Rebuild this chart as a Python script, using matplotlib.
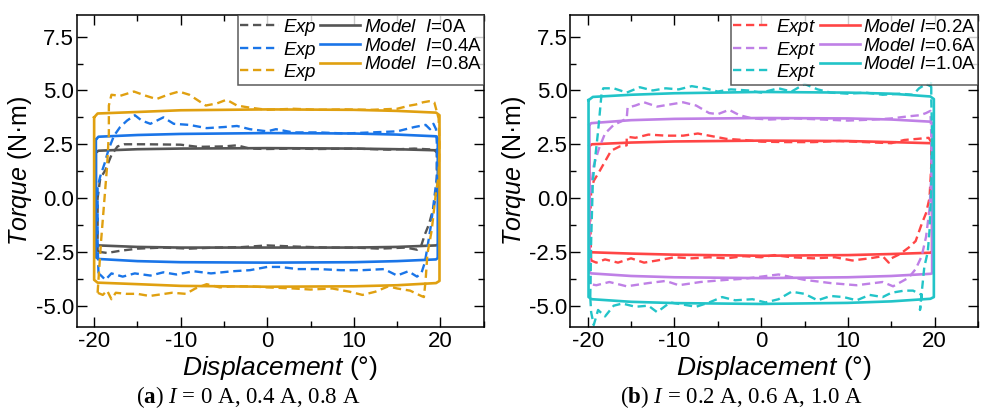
import matplotlib
matplotlib.use("Agg")
import matplotlib.pyplot as plt
from matplotlib.ticker import MultipleLocator

plt.rcParams['font.family'] = ['Liberation Sans', 'DejaVu Sans']
plt.rcParams['axes.unicode_minus'] = False
plt.rcParams['mathtext.fontset'] = 'custom'
plt.rcParams['mathtext.rm'] = 'Liberation Sans'
plt.rcParams['mathtext.it'] = 'Liberation Sans:italic'
plt.rcParams['mathtext.bf'] = 'Liberation Serif:bold'
plt.rcParams['mathtext.cal'] = 'Liberation Serif:italic'

# ---- panel (a): I = 0, 0.4, 0.8 A ----
# model loops (closed paths: upper branch left->right, lower branch right->left)
model0_x = [-19.8, -19.5, -15, -10, 0, 10, 15, 19.5, 19.8, 19.8, 19.5, 15, 10, 0, -10, -15, -19.5, -19.8, -19.8]
model0_y = [2.12, 2.2, 2.27, 2.3, 2.32, 2.3, 2.27, 2.22, 2.15, -2.15, -2.2, -2.27, -2.3, -2.3, -2.3, -2.27, -2.2, -2.15, 2.12]

model04_x = [-19.8, -19.5, -15, -10, 0, 10, 15, 19.5, 19.7, 19.7, 19.5, 15, 10, 0, -10, -15, -19.5, -19.8, -19.8]
model04_y = [2.72, 2.85, 2.93, 2.98, 3.02, 3.0, 2.95, 2.87, 2.78, -2.78, -2.85, -2.93, -2.98, -3.0, -2.98, -2.93, -2.83, -2.75, 2.72]

model08_x = [-20.0, -19.6, -15, -10, 0, 10, 15, 19.5, 19.9, 19.9, 19.5, 15, 10, 0, -10, -15, -19.6, -20.0, -20.0]
model08_y = [3.75, 3.93, 4.0, 4.08, 4.12, 4.1, 4.05, 3.97, 3.85, -3.85, -3.95, -4.05, -4.1, -4.12, -4.08, -4.0, -3.93, -3.8, 3.75]

# experimental loops
exp0_x = [-19.6, -19.6, -19.3, -18.7, -18.0, -17.3, -16.5, -14, -10, -8, -5, -3.5, -2, 0, 3, 6, 10, 14, 17, 19.3,
          19.6, 19.6, 19.3, 18.7, 18.2, 17.8, 17.3, 16, 13, 10, 7, 3, 0, -3, -6, -9, -12, -15, -17, -18.5, -19.4, -19.6]
exp0_y = [-2.5, 0.0, 0.9, 1.3, 2.0, 2.4, 2.5, 2.5, 2.48, 2.38, 2.4, 2.45, 2.3, 2.28, 2.3, 2.28, 2.3, 2.25, 2.3, 2.25,
          2.1, 0.5, -0.3, -1.2, -1.7, -2.2, -2.4, -2.3, -2.35, -2.3, -2.3, -2.25, -2.2, -2.28, -2.3, -2.35, -2.3, -2.35, -2.45, -2.55, -2.5, -2.5]

exp04_x = [-19.5, -19.6, -19.6, -19.3, -18.8, -18.3, -17.7, -17, -16.2, -15.3, -14.5, -13.5, -12, -10.8, -9, -7, -5, -3.5, -2, 0,
           1, 3, 6, 9, 12, 15, 17, 18.3, 18.8, 19.2, 19.5, 19.6, 19.6, 19.3, 18.9, 18.5, 18.2, 17.8, 17.3, 16.3, 15, 13.5,
           11, 8.5, 6, 3.5, 1.5, 0, -2, -4, -6.5, -8.5, -10.5, -12, -13.5, -15.3, -16.7, -18, -18.7, -19.2, -19.5]
exp04_y = [-3.5, -2.0, 0.5, 1.0, 1.6, 2.3, 2.9, 3.3, 3.6, 3.85, 3.6, 3.45, 3.75, 3.45, 3.4, 3.25, 3.3, 3.35, 3.2, 3.1,
           3.2, 3.05, 3.05, 3.0, 3.05, 3.1, 3.3, 3.4, 3.2, 3.45, 3.2, 2.5, 1.0, 0.0, -1.3, -2.3, -3.0, -3.5, -3.65, -3.4, -3.6, -3.3,
           -3.35, -3.35, -3.3, -3.3, -3.2, -3.2, -3.35, -3.4, -3.5, -3.4, -3.55, -3.45, -3.6, -3.5, -3.65, -3.5, -3.8, -3.6, -3.5]

exp08_x = [-19.6, -19.5, -19.2, -18.8, -18.5, -18.3, -18.3, -18.0, -17, -15.4, -14, -12.8, -11.5, -10.2, -9, -7.1, -5.8, -4.7, -3.5, -2,
           0, 3, 6, 9, 12, 15, 16.5, 17.2, 18.0, 18.7, 19.1, 19.3, 19.8, 19.9, 19.8, 19.5, 19.0, 18.5, 18.3, 18.1, 17.8, 16.5,
           15, 14, 12.5, 11, 9.5, 7.5, 5, 3, 0, -2, -4, -5.5, -7, -8.3, -9.4, -11, -13.6, -15, -16.3, -17.5, -18, -18.5, -19, -19.6]
exp08_y = [-4.4, -3.8, -2.0, 0.0, 1.5, 3.0, 4.3, 4.8, 4.75, 4.95, 4.75, 4.6, 4.8, 4.95, 4.8, 4.3, 4.4, 4.57, 4.3, 4.2,
           4.1, 4.15, 4.1, 4.12, 4.1, 4.15, 4.3, 4.35, 4.45, 4.5, 4.5, 4.45, 3.7, 2.5, 1.0, 0.3, -1.5, -2.6, -3.8, -4.6, -4.55, -4.3,
           -4.2, -4.1, -4.35, -4.5, -4.35, -4.2, -4.25, -4.2, -4.15, -4.1, -4.1, -4.15, -4.0, -4.2, -4.45, -4.4, -4.55, -4.45, -4.45, -4.4, -4.7, -4.3, -4.5, -4.4]

# ---- panel (b): I = 0.2, 0.6, 1.0 A ----
model02_x = [-19.8, -19.5, -15, -10, 0, 10, 15, 19.5, 19.7, 19.7, 19.5, 15, 10, 0, -10, -15, -19.5, -19.8, -19.8]
model02_y = [2.42, 2.5, 2.58, 2.63, 2.67, 2.65, 2.6, 2.55, 2.48, -2.48, -2.54, -2.6, -2.65, -2.68, -2.63, -2.58, -2.52, -2.45, 2.42]

model06_x = [-19.8, -19.6, -15, -10, 0, 10, 15, 19.5, 19.7, 19.7, 19.5, 15, 10, 0, -10, -15, -19.6, -19.8, -19.8]
model06_y = [3.4, 3.48, 3.62, 3.68, 3.72, 3.7, 3.65, 3.55, 3.5, -3.5, -3.52, -3.62, -3.68, -3.72, -3.68, -3.62, -3.5, -3.45, 3.4]

model10_x = [-19.9, -19.4, -15, -10, 0, 10, 15, 19.5, 19.9, 19.9, 19.5, 15, 10, 0, -10, -15, -19.5, -19.9, -19.9]
model10_y = [4.55, 4.7, 4.8, 4.87, 4.93, 4.9, 4.85, 4.72, 4.6, -4.6, -4.68, -4.8, -4.87, -4.92, -4.88, -4.82, -4.7, -4.6, 4.55]

exp02_x = [-19.6, -19.7, -19.6, -19.3, -18.7, -18.0, -17.3, -16.3, -15.5, -15.5, -14.5, -13, -11, -9, -7.3, -6, -4, -2, 0, 3,
           6, 9, 12, 15, 16.5, 18, 19.3, 19.6, 19.6, 19.4, 19.0, 18.5, 17.8, 17, 16, 15, 14.7, 14, 12.5, 10.5, 8.5,
           6, 3.5, 1.5, 0, -2, -4, -6, -8, -10, -12, -13.5, -15, -16.5, -18, -19, -19.6]
exp02_y = [-2.9, -1.0, 0.3, 0.8, 1.2, 1.7, 2.2, 2.4, 2.45, 2.85, 2.8, 2.95, 2.9, 2.9, 3.0, 2.9, 2.75, 2.7, 2.62, 2.6,
           2.6, 2.65, 2.6, 2.55, 2.7, 2.75, 2.8, 2.6, 1.5, 0.0, -0.7, -1.2, -2.0, -2.3, -2.6, -2.8, -3.0, -2.7, -2.8, -2.9, -2.75,
           -2.8, -2.75, -2.65, -2.75, -2.7, -2.8, -2.75, -2.8, -2.75, -2.9, -3.0, -2.8, -3.0, -2.85, -3.0, -2.9]

exp06_x = [-19.7, -19.7, -19.6, -19.3, -18.7, -18.0, -17, -16.2, -15.5, -15.4, -14.5, -13.5, -12, -10.5, -9, -7.5, -6, -5, -3.7, -2.5,
           -1, 1, 4, 7, 10, 13, 15, 17, 18.3, 19, 19.5, 19.6, 19.6, 19.4, 19, 18.5, 17.8, 17, 15.2, 14, 11,
           8, 5, 2, 0, -2, -4, -7, -9.5, -11, -13, -15.5, -17.5, -19, -19.7]
exp06_y = [-4.0, -1.0, 0.5, 1.5, 2.3, 3.0, 3.4, 3.55, 3.7, 4.2, 4.3, 4.45, 4.25, 4.35, 4.45, 4.3, 3.95, 3.9, 4.1, 3.85,
           3.7, 3.65, 3.7, 3.65, 3.6, 3.65, 3.7, 3.8, 3.85, 3.95, 4.05, 3.0, 1.0, -0.5, -1.8, -2.7, -3.3, -3.7, -4.1, -3.9, -4.05,
           -3.95, -3.8, -3.55, -3.65, -3.75, -3.8, -3.9, -4.05, -3.85, -3.95, -4.1, -3.9, -4.05, -4.0]

exp10_x = [-19.7, -19.6, -19.4, -19.1, -18.8, -18.4, -18.2, -17, -15.5, -14, -12.5, -11, -9.5, -8, -6.5, -5, -3.5, -1.5, 0, 2,
           3.5, 5, 6.5, 8, 10, 12, 14, 16, 17.5, 18.2, 19, 19.5, 19.6, 19.6, 19.7, 19.6, 19.4, 19.2, 18.8, 18.6, 18.4, 18.3,
           18.5, 17.5, 16.5, 15, 14, 12.5, 11, 9.5, 8, 6.5, 5, 3.5, 2, 0.5, -1, -3, -4.5, -6, -7.5, -9, -10.5, -12,
           -13, -14.5, -16, -17, -18, -18.8, -19.3, -19.6, -19.7]
exp10_y = [-4.6, -2.0, 0.8, 2.0, 3.1, 4.85, 5.1, 5.1, 4.9, 5.15, 5.0, 5.1, 5.05, 5.2, 5.1, 4.95, 5.05, 5.0, 4.9, 5.1,
           4.95, 5.3, 5.05, 4.9, 4.85, 4.9, 4.8, 4.85, 4.8, 5.1, 5.3, 5.2, 5.4, 4.6, 3.0, 0.5, -1.5, -2.5, -3.2, -4.0, -4.8, -5.2,
           -4.5, -4.3, -4.3, -4.4, -4.6, -4.5, -4.75, -4.6, -4.55, -4.75, -4.45, -4.35, -4.7, -4.85, -4.7, -4.75, -4.6, -4.85, -5.05, -4.95, -4.85, -5.3,
           -5.0, -5.05, -4.9, -5.0, -5.5, -5.2, -5.9, -5.3, -4.6]

colors_a = ['#555555', '#1a75e8', '#e0a010']
colors_b = ['#ff4545', '#bf80e6', '#22c4c8']
labels_a = ['$\\mathit{Model}$  $\\mathit{I}$=0A', '$\\mathit{Model}$  $\\mathit{I}$=0.4A', '$\\mathit{Model}$  $\\mathit{I}$=0.8A']
labels_b = ['$\\mathit{Model}$ $\\mathit{I}$=0.2A', '$\\mathit{Model}$ $\\mathit{I}$=0.6A', '$\\mathit{Model}$ $\\mathit{I}$=1.0A']


def draw_panel(ax, exps, models, colors, exp_label, model_labels):
    h_exp, h_mod = [], []
    for (ex, ey), (mx, my), c in zip(exps, models, colors):
        l1, = ax.plot(ex, ey, '--', color=c, lw=1.7, dashes=(3.5, 2))
        l2, = ax.plot(mx, my, '-', color=c, lw=1.9)
        h_exp.append(l1)
        h_mod.append(l2)

    ax.set_xlim(-22, 25)
    ax.set_ylim(-6, 8.5)
    ax.xaxis.set_major_locator(MultipleLocator(10))
    ax.xaxis.set_minor_locator(MultipleLocator(5))
    ax.yaxis.set_minor_locator(MultipleLocator(1.25))
    ax.set_yticks([-5, -2.5, 0, 2.5, 5, 7.5])
    ax.set_yticklabels(['-5.0', '-2.5', '0.0', '2.5', '5.0', '7.5'])
    ax.tick_params(which='both', direction='in', top=True, right=True, labelsize=16, width=1.0)
    ax.tick_params(which='major', length=7)
    ax.tick_params(which='minor', length=4)
    ax.tick_params(axis='y', pad=2)
    ax.tick_params(axis='x', pad=3)
    for sp in ax.spines.values():
        sp.set_linewidth(1.1)
    ax.set_xlabel('$\\mathit{Displacement}$ (°)', fontsize=19, labelpad=1)
    ax.set_ylabel('$\\mathit{Torque}$ (N·m)', fontsize=18, labelpad=1)

    leg = ax.legend(h_exp + h_mod, [exp_label] * 3 + model_labels, ncol=2, loc='upper right',
                    fontsize=13.5, frameon=True, fancybox=False, borderaxespad=0, handlelength=2.1,
                    handletextpad=0.2, columnspacing=0.2, labelspacing=0.08, borderpad=0.1)
    leg.get_frame().set_edgecolor('#333333')
    leg.get_frame().set_linewidth(1.1)


fig = plt.figure(figsize=(9.85, 4.09), dpi=100)
ax1 = fig.add_axes([0.078, 0.2, 0.413, 0.763])
ax2 = fig.add_axes([0.579, 0.2, 0.414, 0.763])

draw_panel(ax1, [(exp0_x, exp0_y), (exp04_x, exp04_y), (exp08_x, exp08_y)],
           [(model0_x, model0_y), (model04_x, model04_y), (model08_x, model08_y)],
           colors_a, '$\\mathit{Exp}$', labels_a)
draw_panel(ax2, [(exp02_x, exp02_y), (exp06_x, exp06_y), (exp10_x, exp10_y)],
           [(model02_x, model02_y), (model06_x, model06_y), (model10_x, model10_y)],
           colors_b, '$\\mathit{Expt}$', labels_b)

fig.text(0.252, 0.03, '($\\mathbf{a}$) $\\mathcal{I}$ = 0 A, 0.4 A, 0.8 A', family='Liberation Serif',
         fontsize=16.5, ha='center', va='center')
fig.text(0.753, 0.03, '($\\mathbf{b}$) $\\mathcal{I}$ = 0.2 A, 0.6 A, 1.0 A', family='Liberation Serif',
         fontsize=16.5, ha='center', va='center')

fig.savefig('out.png', dpi=100)
